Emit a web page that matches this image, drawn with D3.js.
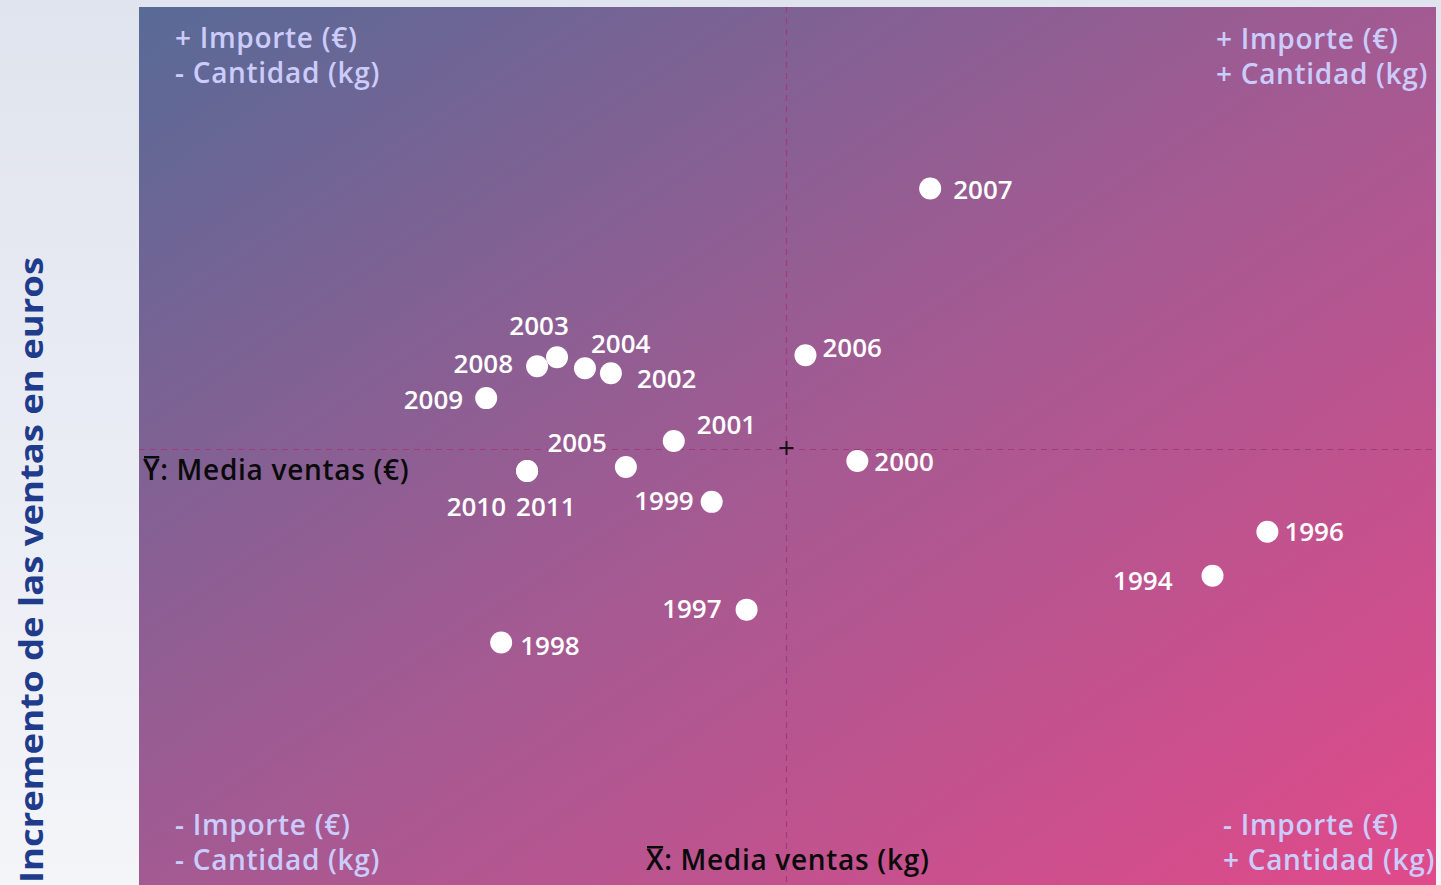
<!DOCTYPE html>
<html>
<head>
<meta charset="utf-8">
<script src="https://cdn.jsdelivr.net/npm/d3@7"></script>
<style>
  html, body { margin: 0; padding: 0; overflow: hidden; }
  body { width: 1441px; height: 885px; }
  svg { display: block; }
  text { font-family: "Open Sans", "DejaVu Sans", sans-serif; }
</style>
</head>
<body>
<svg id="chart" width="1441" height="885"></svg>
<script>
// Years shown on the scatter
const years = ["2007","2006","2003","2008","2004","2002","2009","2001","2005","2010","2011","2000","1999","1996","1994","1997","1998"];
// Sales quantity (thousand kg)
const quantity = [79.3, 66.8, 41.9, 39.9, 44.7, 47.3, 34.8, 53.6, 48.8, 38.9, 38.9, 72.0, 57.4, 113.1, 107.6, 60.9, 36.3];
// Sales amount (thousand €)
const amount = [69.8, 53.1, 52.9, 52.0, 51.8, 51.3, 48.8, 44.5, 41.9, 41.5, 41.5, 42.5, 38.4, 35.4, 31.0, 27.6, 24.3];
// Reference means
const meanQuantity = 64.9;
const meanAmount = 43.8;
// Axis extents
const quantityDomain = [0, 130];
const amountDomain = [0, 88];

// Quadrant captions
const quadrantTL = ["+ Importe (€)", "- Cantidad (kg)"];
const quadrantTR = ["+ Importe (€)", "+ Cantidad (kg)"];
const quadrantBL = ["- Importe (€)", "- Cantidad (kg)"];
const quadrantBR = ["- Importe (€)", "+ Cantidad (kg)"];
const yTitle = "Incremento de las ventas en euros";

// Label placement per year: [dx, dy, anchor]
const labelPlacement = {
  "2007": [23, 1, "start"], "2006": [17, -8, "start"], "2003": [-18, -32, "middle"],
  "2008": [-24, -3, "end"], "2004": [6, -25, "start"], "2002": [26, 5, "start"],
  "2009": [-23, 2, "end"], "2001": [23, -16, "start"], "2005": [-19, -24, "end"],
  "2010": [-21, 36, "end"], "2011": [-11, 36, "start"], "2000": [17, 1, "start"],
  "1999": [-18, -1, "end"], "1996": [17, 0, "start"], "1994": [-40, 5, "end"],
  "1997": [-25, -1, "end"], "1998": [19, 3, "start"]
};

const W = 1441, H = 885;
const plot = { left: 139, top: 7, right: 1436, bottom: 885 };

const svg = d3.select("#chart");
const defs = svg.append("defs");

const bg = defs.append("linearGradient").attr("id", "pageBg")
  .attr("x1", 0).attr("y1", 0).attr("x2", 0).attr("y2", 1);
bg.append("stop").attr("offset", 0).attr("stop-color", "#e0e4ee");
bg.append("stop").attr("offset", 1).attr("stop-color", "#f3f5f9");

const pg = defs.append("linearGradient").attr("id", "plotBg")
  .attr("x1", 0).attr("y1", 0).attr("x2", 1).attr("y2", 1);
pg.append("stop").attr("offset", 0).attr("stop-color", "#586a96");
pg.append("stop").attr("offset", 0.5).attr("stop-color", "#a35a92");
pg.append("stop").attr("offset", 1).attr("stop-color", "#e14a8a");

svg.append("rect").attr("width", W).attr("height", H).attr("fill", "url(#pageBg)");
svg.append("rect")
  .attr("x", plot.left).attr("y", plot.top)
  .attr("width", plot.right - plot.left).attr("height", plot.bottom - plot.top)
  .attr("fill", "url(#plotBg)");

const x = d3.scaleLinear().domain(quantityDomain).range([plot.left, plot.right]);
const y = d3.scaleLinear().domain(amountDomain).range([plot.bottom, plot.top]);

// Mean cross-hair
const lineColor = "#a03c7a";
svg.append("line")
  .attr("x1", x(meanQuantity)).attr("x2", x(meanQuantity))
  .attr("y1", plot.top).attr("y2", plot.bottom)
  .attr("stroke", lineColor).attr("stroke-width", 1.2).attr("stroke-dasharray", "6,5");
svg.append("line")
  .attr("x1", plot.left).attr("x2", plot.right)
  .attr("y1", y(meanAmount) + 1.5).attr("y2", y(meanAmount) + 1.5)
  .attr("stroke", lineColor).attr("stroke-width", 1.2).attr("stroke-dasharray", "6,5");
const cx = x(meanQuantity), cy = y(meanAmount);
svg.append("path")
  .attr("d", `M${cx - 7},${cy}H${cx + 7}M${cx},${cy - 7}V${cy + 7}`)
  .attr("stroke", "#111").attr("stroke-width", 2);

// Quadrant captions
const capColor = "#ccccfc";
function caption(lines, px, py) {
  const t = svg.append("text")
    .attr("x", px).attr("y", py)
    .attr("fill", capColor).attr("font-size", 28).attr("font-weight", 600)
    .attr("letter-spacing", 0.7);
  lines.forEach((s, i) => t.append("tspan").attr("x", px).attr("dy", i === 0 ? 0 : 34.5).text(s));
}
caption(quadrantTL, 175, 48);
caption(quadrantTR, 1216, 49);
caption(quadrantBL, 175, 835);
caption(quadrantBR, 1223, 835);

// Mean labels with bar accents
function meanLabel(letter, rest, px, py) {
  const t = svg.append("text")
    .attr("x", px).attr("y", py)
    .attr("fill", "#0a0a0a").attr("font-size", 28).attr("font-weight", 600)
    .attr("letter-spacing", 0.7);
  t.append("tspan").text(letter);
  t.append("tspan").text(rest);
  const ext = t.node().getExtentOfChar(0);
  svg.append("rect")
    .attr("x", ext.x + 1).attr("y", py - 24)
    .attr("width", ext.width - 2).attr("height", 2.5)
    .attr("fill", "#0a0a0a");
}
meanLabel("Y", ": Media ventas (€)", 143, 480);
meanLabel("X", ": Media ventas (kg)", 646, 870);

// Axis title
svg.append("text")
  .attr("transform", "translate(43,883) rotate(-90)")
  .attr("fill", "#1f3c8c").attr("font-size", 32).attr("font-weight", 700)
  .attr("textLength", 626).attr("lengthAdjust", "spacingAndGlyphs")
  .text(yTitle);

// Points
const data = years.map((yr, i) => ({ year: yr, q: quantity[i], a: amount[i] }));
svg.append("g").selectAll("circle").data(data).join("circle")
  .attr("cx", d => x(d.q)).attr("cy", d => y(d.a))
  .attr("r", 11).attr("fill", "#ffffff");

svg.append("g").selectAll("text").data(data).join("text")
  .attr("x", d => x(d.q) + labelPlacement[d.year][0])
  .attr("y", d => y(d.a) + labelPlacement[d.year][1])
  .attr("dy", "0.36em")
  .attr("text-anchor", d => labelPlacement[d.year][2])
  .attr("fill", "#ffffff").attr("font-size", 26).attr("font-weight", 600)
  .text(d => d.year);
</script>
</body>
</html>
